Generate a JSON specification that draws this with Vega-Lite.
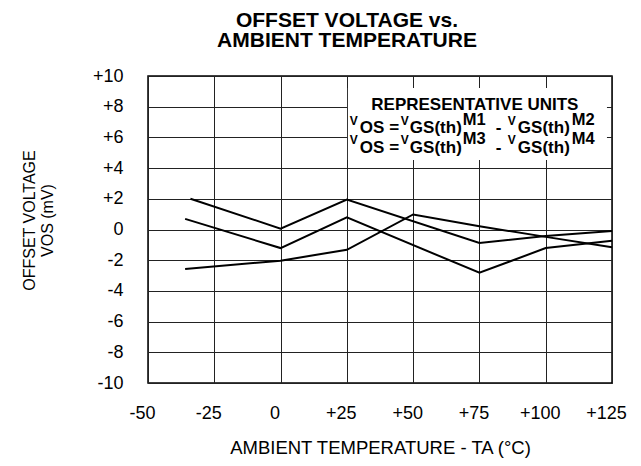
{
  "$schema": "https://vega.github.io/schema/vega-lite/v6.json",
  "width": 464,
  "height": 307,
  "autosize": {"type": "none"},
  "padding": {"left": 148, "top": 76, "right": 29, "bottom": 83},
  "background": "white",
  "config": {
    "font": "Liberation Sans",
    "view": {"stroke": "black", "strokeWidth": 1.5},
    "text": {"font": "Liberation Sans", "color": "black"}
  },
  "title": {
    "text": ["OFFSET VOLTAGE vs.", "AMBIENT TEMPERATURE"],
    "font": "Liberation Sans",
    "fontSize": 21,
    "fontWeight": "bold",
    "color": "black",
    "anchor": "middle",
    "dx": -33,
    "dy": 30,
    "lineHeight": 20.5,
    "baseline": "bottom",
    "offset": 25
  },
  "layer": [
    {
      "data": {
        "values": [
          {"s": "A", "t": -34, "v": 2.0},
          {"s": "A", "t": 0, "v": 0.06},
          {"s": "A", "t": 25, "v": 1.95},
          {"s": "A", "t": 75, "v": -0.88},
          {"s": "A", "t": 100, "v": -0.42},
          {"s": "A", "t": 125, "v": -0.1},
          {"s": "B", "t": -36, "v": 0.69},
          {"s": "B", "t": 0, "v": -1.21},
          {"s": "B", "t": 25, "v": 0.79},
          {"s": "B", "t": 75, "v": -2.82},
          {"s": "B", "t": 100, "v": -1.21},
          {"s": "B", "t": 125, "v": -0.73},
          {"s": "C", "t": -36, "v": -2.57},
          {"s": "C", "t": 0, "v": -2.03},
          {"s": "C", "t": 25, "v": -1.32},
          {"s": "C", "t": 50, "v": 0.98},
          {"s": "C", "t": 75, "v": 0.21},
          {"s": "C", "t": 100, "v": -0.48},
          {"s": "C", "t": 125, "v": -1.15}
        ]
      },
      "mark": {"type": "line", "color": "black", "strokeWidth": 2},
      "encoding": {
        "x": {
          "field": "t",
          "type": "quantitative",
          "scale": {"domain": [-50, 125], "nice": false, "zero": false},
          "axis": {
            "values": [-50, -25, 0, 25, 50, 75, 100, 125],
            "tickCount": 20,
            "labelExpr": "(datum.value > 0 ? '+' : '') + datum.value",
            "title": "AMBIENT TEMPERATURE - TA (°C)",
            "grid": true,
            "gridColor": "#222",
            "gridWidth": 1,
            "gridOpacity": 1,
            "ticks": false,
            "domain": false,
            "labelFont": "Liberation Sans",
            "labelFontSize": 18,
            "labelColor": "black",
            "labelPadding": 21,
            "labelOffset": -6,
            "labelFlush": false,
            "labelOverlap": false,
            "titleFont": "Liberation Sans",
            "titleFontSize": 18.5,
            "titleFontWeight": "normal",
            "titleColor": "black",
            "titleBaseline": "alphabetic",
            "titleY": 70
          }
        },
        "y": {
          "field": "v",
          "type": "quantitative",
          "scale": {"domain": [-10, 10], "nice": false, "zero": false},
          "axis": {
            "values": [-10, -8, -6, -4, -2, 0, 2, 4, 6, 8, 10],
            "tickCount": 20,
            "labelExpr": "(datum.value > 0 ? '+' : '') + datum.value",
            "title": ["OFFSET VOLTAGE", "VOS (mV)"],
            "grid": true,
            "gridColor": "#222",
            "gridWidth": 1,
            "gridOpacity": 1,
            "ticks": false,
            "domain": false,
            "labelFont": "Liberation Sans",
            "labelFontSize": 18,
            "labelColor": "black",
            "labelPadding": 25,
            "labelFlush": false,
            "labelOverlap": false,
            "titleFont": "Liberation Sans",
            "titleFontSize": 16,
            "titleFontWeight": "normal",
            "titleColor": "black",
            "titleAngle": -90,
            "titleAlign": "center",
            "titleBaseline": "alphabetic",
            "titleLineHeight": 18,
            "titleX": -114,
            "titleY": 144
          }
        },
        "detail": {"field": "s", "type": "nominal"}
      }
    },
    {
      "data": {"values": [{}]},
      "layer": [
        {
          "mark": {"type": "rect", "fill": "white", "strokeWidth": 0},
          "encoding": {
            "x": {"datum": 25.4},
            "x2": {"datum": 123.1},
            "y": {"datum": 9.22},
            "y2": {"datum": 4.53}
          }
        },
        {
          "mark": {"type": "text", "text": "REPRESENTATIVE UNITS", "align": "center", "baseline": "alphabetic", "fontSize": 17, "fontWeight": "bold", "dx": 128},
          "encoding": {"x": {"datum": 25}, "y": {"datum": 7.8}}
        },
        {
          "mark": {"type": "text", "text": "V", "align": "left", "baseline": "alphabetic", "fontSize": 12, "fontWeight": "bold", "dx": 3},
          "encoding": {"x": {"datum": 25}, "y": {"datum": 6.84}}
        },
        {
          "mark": {"type": "text", "text": "OS =", "align": "left", "baseline": "alphabetic", "fontSize": 17, "fontWeight": "bold", "dx": 13},
          "encoding": {"x": {"datum": 25}, "y": {"datum": 6.29}}
        },
        {
          "mark": {"type": "text", "text": "V", "align": "left", "baseline": "alphabetic", "fontSize": 12, "fontWeight": "bold", "dx": 54},
          "encoding": {"x": {"datum": 25}, "y": {"datum": 6.84}}
        },
        {
          "mark": {"type": "text", "text": "GS(th)", "align": "left", "baseline": "alphabetic", "fontSize": 17, "fontWeight": "bold", "dx": 63},
          "encoding": {"x": {"datum": 25}, "y": {"datum": 6.29}}
        },
        {
          "mark": {"type": "text", "text": "M1", "align": "left", "baseline": "alphabetic", "fontSize": 16.5, "fontWeight": "bold", "dx": 116},
          "encoding": {"x": {"datum": 25}, "y": {"datum": 6.84}}
        },
        {
          "mark": {"type": "text", "text": "-", "align": "left", "baseline": "alphabetic", "fontSize": 17, "fontWeight": "bold", "dx": 149},
          "encoding": {"x": {"datum": 25}, "y": {"datum": 6.29}}
        },
        {
          "mark": {"type": "text", "text": "V", "align": "left", "baseline": "alphabetic", "fontSize": 12, "fontWeight": "bold", "dx": 161},
          "encoding": {"x": {"datum": 25}, "y": {"datum": 6.84}}
        },
        {
          "mark": {"type": "text", "text": "GS(th)", "align": "left", "baseline": "alphabetic", "fontSize": 17, "fontWeight": "bold", "dx": 171},
          "encoding": {"x": {"datum": 25}, "y": {"datum": 6.29}}
        },
        {
          "mark": {"type": "text", "text": "M2", "align": "left", "baseline": "alphabetic", "fontSize": 16.5, "fontWeight": "bold", "dx": 225},
          "encoding": {"x": {"datum": 25}, "y": {"datum": 6.84}}
        },
        {
          "mark": {"type": "text", "text": "V", "align": "left", "baseline": "alphabetic", "fontSize": 12, "fontWeight": "bold", "dx": 3},
          "encoding": {"x": {"datum": 25}, "y": {"datum": 5.54}}
        },
        {
          "mark": {"type": "text", "text": "OS =", "align": "left", "baseline": "alphabetic", "fontSize": 17, "fontWeight": "bold", "dx": 13},
          "encoding": {"x": {"datum": 25}, "y": {"datum": 4.98}}
        },
        {
          "mark": {"type": "text", "text": "V", "align": "left", "baseline": "alphabetic", "fontSize": 12, "fontWeight": "bold", "dx": 54},
          "encoding": {"x": {"datum": 25}, "y": {"datum": 5.54}}
        },
        {
          "mark": {"type": "text", "text": "GS(th)", "align": "left", "baseline": "alphabetic", "fontSize": 17, "fontWeight": "bold", "dx": 63},
          "encoding": {"x": {"datum": 25}, "y": {"datum": 4.98}}
        },
        {
          "mark": {"type": "text", "text": "M3", "align": "left", "baseline": "alphabetic", "fontSize": 16.5, "fontWeight": "bold", "dx": 116},
          "encoding": {"x": {"datum": 25}, "y": {"datum": 5.54}}
        },
        {
          "mark": {"type": "text", "text": "-", "align": "left", "baseline": "alphabetic", "fontSize": 17, "fontWeight": "bold", "dx": 149},
          "encoding": {"x": {"datum": 25}, "y": {"datum": 4.98}}
        },
        {
          "mark": {"type": "text", "text": "V", "align": "left", "baseline": "alphabetic", "fontSize": 12, "fontWeight": "bold", "dx": 161},
          "encoding": {"x": {"datum": 25}, "y": {"datum": 5.54}}
        },
        {
          "mark": {"type": "text", "text": "GS(th)", "align": "left", "baseline": "alphabetic", "fontSize": 17, "fontWeight": "bold", "dx": 171},
          "encoding": {"x": {"datum": 25}, "y": {"datum": 4.98}}
        },
        {
          "mark": {"type": "text", "text": "M4", "align": "left", "baseline": "alphabetic", "fontSize": 16.5, "fontWeight": "bold", "dx": 225},
          "encoding": {"x": {"datum": 25}, "y": {"datum": 5.54}}
        }
      ]
    }
  ]
}
